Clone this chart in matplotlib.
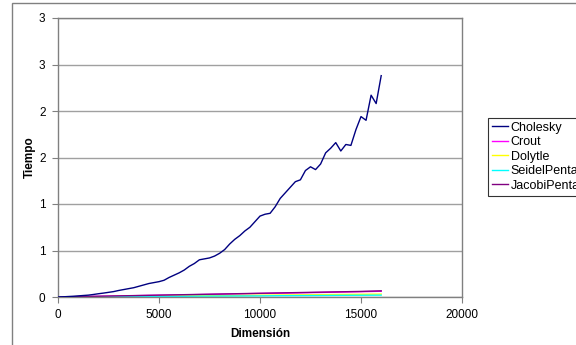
import math

import matplotlib.pyplot as plt
from matplotlib.patches import Rectangle
from matplotlib.ticker import FixedLocator, FuncFormatter

# Dimension values (x) for the Cholesky run
dims_chol = [0, 250, 500, 750, 1000, 1250, 1500, 1750, 2000, 2250, 2500, 2750,
             3000, 3250, 3500, 3750, 4000, 4250, 4500, 4750, 5000, 5250, 5500,
             5750, 6000, 6250, 6500, 6750, 7000, 7250, 7500, 7750, 8000, 8250,
             8500, 8750, 9000, 9250, 9500, 9750, 10000, 10250, 10500, 10750,
             11000, 11250, 11500, 11750, 12000, 12250, 12500, 12750, 13000,
             13250, 13500, 13750, 14000, 14250, 14500, 14750, 15000, 15250,
             15500, 15750, 16000]
cholesky = [0.0, 0.002, 0.005, 0.008, 0.012, 0.016, 0.02, 0.027, 0.035, 0.042,
            0.05, 0.058, 0.07, 0.08, 0.09, 0.10, 0.115, 0.13, 0.145, 0.155,
            0.165, 0.18, 0.21, 0.235, 0.26, 0.29, 0.33, 0.36, 0.40, 0.41, 0.42,
            0.44, 0.47, 0.51, 0.57, 0.62, 0.66, 0.71, 0.75, 0.81, 0.87, 0.89,
            0.90, 0.97, 1.06, 1.12, 1.18, 1.24, 1.26, 1.36, 1.40, 1.37, 1.43,
            1.55, 1.60, 1.66, 1.57, 1.64, 1.63, 1.80, 1.94, 1.90, 2.17, 2.08,
            2.38]

# The other methods, sampled every 1000
dims = [0, 1000, 2000, 3000, 4000, 5000, 6000, 7000, 8000, 9000, 10000,
        11000, 12000, 13000, 14000, 15000, 16000]
crout = [0.0, 0.003, 0.007, 0.011, 0.015, 0.019, 0.022, 0.026, 0.030, 0.034,
         0.038, 0.041, 0.045, 0.049, 0.053, 0.057, 0.062]
dolytle = [0.0, 0.001, 0.003, 0.005, 0.007, 0.009, 0.011, 0.013, 0.015, 0.017,
           0.019, 0.021, 0.023, 0.025, 0.027, 0.029, 0.031]
seidel = [0.0, 0.001, 0.002, 0.003, 0.005, 0.006, 0.007, 0.009, 0.010, 0.011,
          0.012, 0.014, 0.015, 0.016, 0.018, 0.019, 0.020]
jacobi = [0.0, 0.004, 0.008, 0.012, 0.016, 0.020, 0.024, 0.028, 0.032, 0.036,
          0.040, 0.044, 0.048, 0.052, 0.056, 0.060, 0.066]

labels = ["Cholesky", "Crout", "Dolytle", "SeidelPentadiagonal", "JacobiPentadiagonal"]
colors = ["#000080", "#FF00FF", "#FFFF00", "#00FFFF", "#800080"]

y_ticks = [0, 0.5, 1, 1.5, 2, 2.5, 3]
x_ticks = [0, 5000, 10000, 15000, 20000]

plt.rcParams["font.family"] = ["Liberation Sans", "DejaVu Sans"]

fig = plt.figure(figsize=(5.76, 3.45), dpi=100)
# outer chart-area border (only left and top edges fall inside the image)
fig.patches.append(Rectangle((12 / 576, -0.05), 1.2, 1 - 3 / 345 + 0.05,
                             transform=fig.transFigure, fill=False,
                             edgecolor="#808080", linewidth=1.0))

ax = fig.add_axes([58 / 576, 48 / 345, 404 / 576, 279 / 345])

series = [(dims_chol, cholesky), (dims, crout), (dims, dolytle),
          (dims, seidel), (dims, jacobi)]
handles = {}
for i in [1, 2, 3, 4, 0]:
    xs, ys = series[i]
    (ln,) = ax.plot(xs, ys, color=colors[i], linewidth=1.0, label=labels[i],
                    zorder=3 if i == 0 else 2)
    handles[i] = ln

ax.set_xlim(0, 20000)
ax.set_ylim(0, 3)
ax.xaxis.set_major_locator(FixedLocator(x_ticks))
ax.yaxis.set_major_locator(FixedLocator(y_ticks))
# Excel shows the 0.5 steps rounded to whole numbers (half up)
ax.yaxis.set_major_formatter(FuncFormatter(lambda v, p: f"{math.floor(v + 0.5)}"))
ax.grid(axis="y", color="#A0A0A0", linewidth=1.0)
ax.set_axisbelow(True)
for s in ax.spines.values():
    s.set_color("#808080")
    s.set_linewidth(1.0)
ax.tick_params(axis="both", direction="out", length=4, color="#808080",
               labelsize=8.5, pad=5)

ax.set_xlabel("Dimensión", fontsize=8.5, fontweight="bold", labelpad=5)
ax.set_ylabel("Tiempo", fontsize=8.5, fontweight="bold", labelpad=2)

leg = fig.legend([handles[i] for i in range(5)], labels,
                 loc="upper left", bbox_to_anchor=(488 / 576, 1 - 118 / 345),
                 frameon=True, fancybox=False, fontsize=9,
                 handlelength=1.3, handletextpad=0.2, labelspacing=0.2,
                 borderpad=0.3, borderaxespad=0)
leg.get_frame().set_edgecolor("#000000")
leg.get_frame().set_linewidth(0.8)

fig.savefig("out.png", dpi=100, facecolor="white")
